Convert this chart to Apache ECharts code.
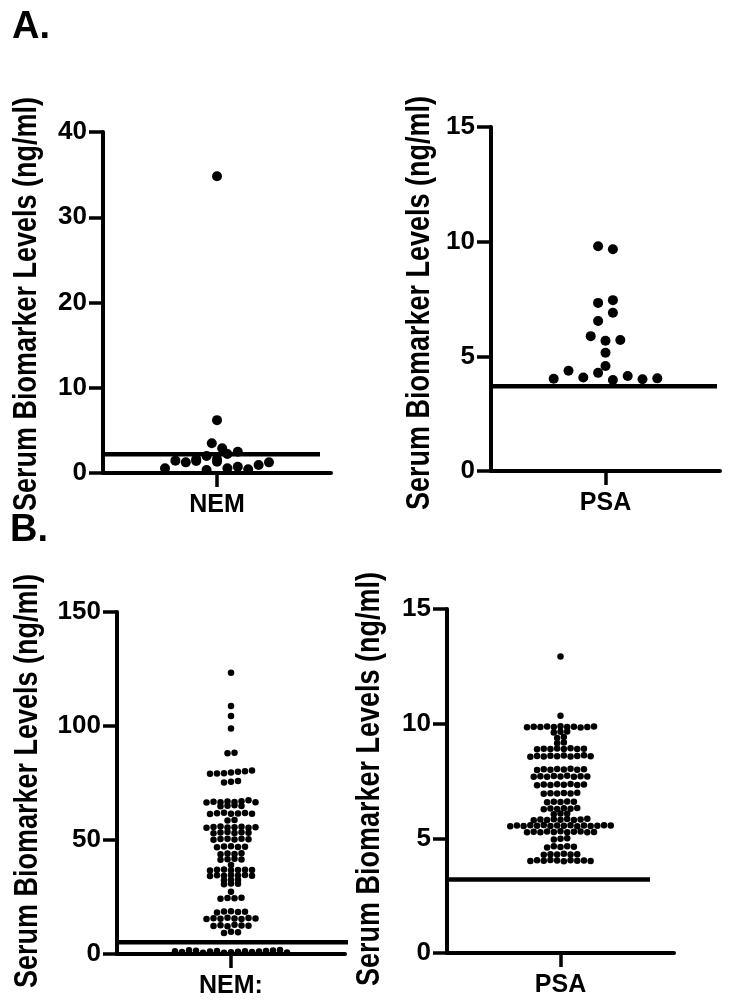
<!DOCTYPE html>
<html><head><meta charset="utf-8">
<script src="https://cdn.jsdelivr.net/npm/echarts@6/dist/echarts.min.js"></script>
<style>html,body{margin:0;padding:0;background:#fff}#c{width:733px;height:1007px}</style>
</head><body><div id="c"></div>
<script>
// ---------------- data ----------------
const categoriesA = ['NEM', 'PSA'];
const categoriesB = ['NEM:', 'PSA'];
const panelLabels = ['A.', 'B.'];
const yTitle = 'Serum Biomarker Levels (ng/ml)';
const yMaxA = [40, 15], yStepA = [10, 5];
const yMaxB = [150, 15], yStepB = [50, 5];
const thresholdA = [2.2, 3.7];
const thresholdB = [5.1, 3.2];

const nemA = [0.55, 1.45, 1.25, 1.4, 0.35, 1.33, 0.55, 0.74, 0.43, 0.94, 1.25,
  1.6, 2.0, 1.6, 2.23, 2.5, 3.48, 2.9, 6.2, 34.8];
const psaA = [4.02, 4.37, 4.08, 4.28, 3.97, 4.14, 4.00, 4.04, 4.58, 5.16,
  5.88, 5.68, 5.71, 6.54, 6.90, 7.33, 7.45, 9.80, 9.67];
const nemB = [
  1.2, 0.9, 1.6, 1.4, 0.6, 1.1, 1.3, 0.5, 0.8, 1.0, 1.2, 0.9, 1.1, 1.3, 1.5, 1.7, 0.7,
  9.2, 9.8, 9.5,
  12.3, 12.6, 12.2, 12.8, 12.5, 12.4,
  15.4, 15.7, 15.5, 15.9, 15.6, 15.3, 15.8, 15.6,
  18.2, 18.6, 18.8, 18.4, 18.5,
  24.2, 24.6, 24.4, 24.7,
  27.3,
  30.6, 30.9, 30.8,
  32.4, 32.6, 32.5,
  34.2, 34.5, 34.3, 34.6, 34.4, 34.7, 34.3,
  36.6, 36.9, 37.1, 36.7, 36.8, 37.0, 36.8,
  39.0,
  41.3, 41.6, 41.8, 41.4,
  43.8, 44.1, 43.9, 44.2,
  46.8, 47.1, 47.3, 46.9, 47.0,
  50.1, 50.4, 50.6, 50.2, 50.5, 50.3,
  53.0, 53.3, 53.5, 53.1, 53.4, 53.2,
  55.4, 55.7, 55.9, 55.5, 55.6, 55.8, 55.4, 55.6,
  58.6, 58.8,
  61.4, 61.7, 61.9, 61.5, 61.6, 61.8, 61.5,
  64.8, 65.0, 65.2, 64.9,
  66.5, 66.8, 66.6, 66.9, 66.7, 67.0, 67.4, 66.6,
  75.2, 75.5, 75.9,
  79.1, 79.2, 79.3, 79.6, 79.9, 80.2, 80.5,
  88.1, 88.3,
  98.9, 104.4, 108.8, 123.4
];
const psaB = [
  4.01, 4.04, 4.02, 4.05, 4.03, 4.00, 4.04, 4.02, 4.03, 4.01,
  4.28, 4.31, 4.30, 4.33, 4.29, 4.31,
  4.60, 4.65, 4.62, 4.66, 4.63,
  4.95, 4.98, 5.00,
  5.26, 5.29, 5.27, 5.30, 5.28, 5.31, 5.27, 5.29, 5.30, 5.26, 5.28,
  5.53, 5.56, 5.54, 5.57, 5.55, 5.58, 5.54, 5.56, 5.55, 5.57, 5.53, 5.56, 5.54, 5.55, 5.57, 5.56,
  5.79, 5.82, 5.80, 5.83, 5.81, 5.84, 5.80, 5.82, 5.85,
  6.05, 6.08, 6.07,
  6.27, 6.30, 6.28, 6.31, 6.29, 6.32,
  6.57, 6.60, 6.58, 6.61, 6.59,
  6.94, 6.97, 6.95, 6.98, 6.96, 6.99,
  7.32, 7.35, 7.33, 7.36, 7.34, 7.37, 7.33, 7.35,
  7.68, 7.71, 7.69, 7.72, 7.70, 7.73, 7.69, 7.71, 7.70,
  7.98, 8.01, 7.99, 8.02, 8.00, 8.03, 7.99, 8.01,
  8.56, 8.59, 8.57, 8.60, 8.58, 8.61, 8.57, 8.59, 8.62, 8.58,
  8.88, 8.91, 8.89, 8.92, 8.90, 8.93, 8.89, 8.91,
  9.15, 9.18,
  9.38, 9.42,
  9.62, 9.65, 9.66,
  9.84, 9.87, 9.85, 9.88, 9.86, 9.89, 9.85, 9.87, 9.83, 9.86, 9.88,
  10.34,
  12.93
];

// ---------------- layout / style ----------------
const FONT = '"Liberation Sans", Arial, Helvetica, sans-serif';
const panels = [
  {cat: categoriesA[0], values: nemA, thr: thresholdA[0], max: yMaxA[0], step: yStepA[0],
   left: 103, top: 132, width: 228, height: 341, dot: 10, spacing: 10.4, bin: 10, lineEnd: 320},
  {cat: categoriesA[1], values: psaA, thr: thresholdA[1], max: yMaxA[1], step: yStepA[1],
   left: 491, top: 127, width: 229, height: 344, dot: 10, spacing: 14.8, bin: 10, lineEnd: 717},
  {cat: categoriesB[0], values: nemB, thr: thresholdB[0], max: yMaxB[0], step: yStepB[0],
   left: 117, top: 612, width: 228, height: 342, dot: 6.5, spacing: 7.0, bin: 3.5, lineEnd: 352},
  {cat: categoriesB[1], values: psaB, thr: thresholdB[1], max: yMaxB[1], step: yStepB[1],
   left: 447, top: 609, width: 227, height: 344, dot: 6.5, spacing: 6.7, bin: 3.5, lineEnd: 650}
];
const titlePos = [[27.5, 304], [420, 303], [28, 781], [370, 779]];
const labelPos = [[12, 28], [10, 531]];

const chart = echarts.init(document.getElementById('c'), null, {renderer: 'canvas'});

const grid = [], xAxis = [], yAxis = [];
panels.forEach((p, i) => {
  grid.push({left: p.left, top: p.top, width: p.width, height: p.height, containLabel: false});
  xAxis.push({
    type: 'category', gridIndex: i, data: [p.cat], boundaryGap: true,
    axisLine: {show: true, onZero: false, lineStyle: {color: '#000', width: 4}},
    axisTick: {show: true, alignWithLabel: true, length: 14, lineStyle: {color: '#000', width: 3.5}},
    axisLabel: {color: '#000', fontSize: 25, fontWeight: 'bold', fontFamily: FONT, margin: 20},
    splitLine: {show: false}
  });
  yAxis.push({
    type: 'value', gridIndex: i, min: 0, max: p.max, interval: p.step,
    axisLine: {show: true, onZero: false, lineStyle: {color: '#000', width: 4}},
    axisTick: {show: true, length: 14, lineStyle: {color: '#000', width: 3.5}},
    axisLabel: {color: '#000', fontSize: 26, fontWeight: 'bold', fontFamily: FONT, margin: 16},
    splitLine: {show: false}
  });
});
panels.forEach((p, i) => {
  xAxis.push({type: 'value', gridIndex: i, min: -1, max: 1, show: false,
    axisLine: {onZero: false}});
});

const graphic = [];
titlePos.forEach(([x, y]) => graphic.push({
  type: 'text', x: x, y: y, rotation: Math.PI / 2, scaleY: 1.2, z: 100,
  style: {text: yTitle, fill: '#000', fontSize: 27, fontWeight: 'bold', fontFamily: FONT,
          textAlign: 'center', textVerticalAlign: 'middle'}
}));
panelLabels.forEach((t, k) => graphic.push({
  type: 'text', x: labelPos[k][0], y: labelPos[k][1], z: 101,
  style: {text: t, fill: '#000', fontSize: 38, fontWeight: 'bold', fontFamily: FONT,
          textAlign: 'left', textVerticalAlign: 'middle'}
}));

chart.setOption({animation: false, grid, xAxis, yAxis, graphic, series: []});

// Row-binned dot layout (GraphPad-like scatter dot plot)
function swarm(p, i) {
  const xi = panels.length + i;
  const py = p.values.map(v => chart.convertToPixel({yAxisIndex: i}, v));
  const order = p.values.map((v, k) => k).sort((a, b) => p.values[a] - p.values[b]);
  const bins = [];
  let cur = null, start = -1;
  order.forEach(k => {
    if (!cur || (py[start] - py[k]) >= p.bin) { cur = []; bins.push(cur); start = k; }
    cur.push(k);
  });
  const cx = chart.convertToPixel({xAxisIndex: xi}, 0);
  const out = new Array(p.values.length);
  bins.forEach(b => {
    b.sort((a, c) => a - c);
    const n = b.length;
    b.forEach((k, j) => {
      const px = cx + (j - (n - 1) / 2) * p.spacing;
      out[k] = [chart.convertFromPixel({xAxisIndex: xi}, px), p.values[k]];
    });
  });
  return out;
}

const series = [];
panels.forEach((p, i) => {
  const xi = panels.length + i;
  const x0 = chart.convertFromPixel({xAxisIndex: xi}, p.left);
  const x1 = chart.convertFromPixel({xAxisIndex: xi}, p.lineEnd);
  series.push({
    type: 'line', xAxisIndex: xi, yAxisIndex: i, data: [[x0, p.thr], [x1, p.thr]],
    symbol: 'none', clip: false, silent: true, z: 2,
    lineStyle: {color: '#000', width: 4.5}
  });
  series.push({
    type: 'scatter', xAxisIndex: xi, yAxisIndex: i, data: swarm(p, i),
    symbol: 'circle', symbolSize: p.dot, silent: true, z: 3,
    itemStyle: {color: '#000', opacity: 1}
  });
});
chart.setOption({series});
</script>
</body></html>
